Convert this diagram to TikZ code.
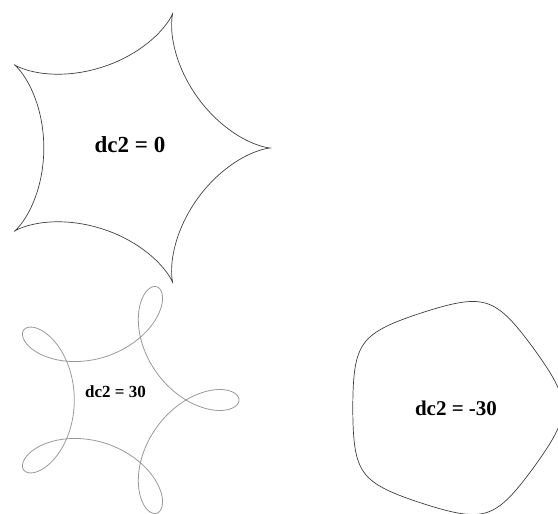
\documentclass[tikz,border=0pt]{standalone}
\usepackage{fontspec}
\setmainfont{Liberation Serif}
\begin{document}
\begin{tikzpicture}[x=1pt,y=-1pt,
  curve/.style={line width=0.7pt,draw=black!75,line join=round},
  lightcurve/.style={line width=0.8pt,draw=black!40,line join=round},
  lbl/.style={anchor=base,inner sep=0pt,font=\bfseries}]
\useasboundingbox (0,0) rectangle (558,514);
\clip (0,0) rectangle (558,514);
% dc2 = 0 : hypocycloid (5 cusps)
\draw[curve] plot[domain=0:360,samples=600,variable=\t]
  ({129+113.6*cos(\t)+28.4*cos(4*\t)},{148-(113.6*sin(\t)-28.4*sin(4*\t))}) -- cycle;
% dc2 = 30 : prolate (loops)
\draw[lightcurve] plot[domain=0:360,samples=600,variable=\t]
  ({120+82.35*cos(\t)+36.65*cos(4*\t)},{400-(82.35*sin(\t)-36.65*sin(4*\t))}) -- cycle;
% dc2 = -30 : curtate (rounded pentagon)
\draw[curve] plot[domain=0:360,samples=600,variable=\t]
  ({453+105.0*cos(\t)+4.8*cos(4*\t)},{408-(105.0*sin(\t)-4.8*sin(4*\t))}) -- cycle;
\node[lbl,font=\fontsize{23}{26}\selectfont\bfseries] (l0) at (130,152) {dc2 = 0};
\node[lbl,font=\fontsize{17}{20}\selectfont\bfseries] (l30) at (115.5,397) {dc2 = 30};
\node[lbl,font=\fontsize{21}{24}\selectfont\bfseries] (lm30) at (456,415) {dc2 = -30};
\end{tikzpicture}
\end{document}
